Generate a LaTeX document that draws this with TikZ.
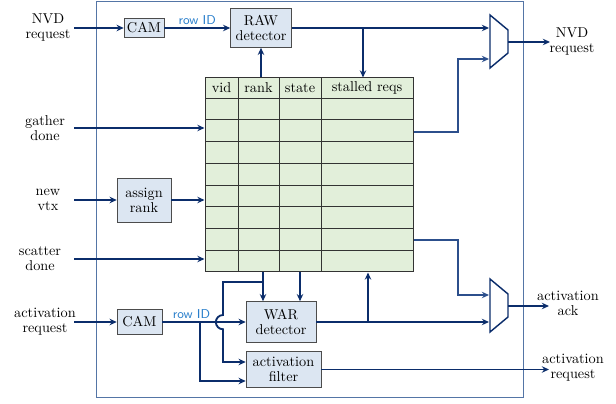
\documentclass[tikz,border=0pt]{standalone}
\usepackage{xcolor}
\usepackage{tikz}
\usetikzlibrary{arrows.meta}

\definecolor{navy}{HTML}{0B2D6B}
\definecolor{linkblue}{HTML}{2C4F8C}
\definecolor{frameblue}{HTML}{5475A6}
\definecolor{boxfill}{HTML}{DCE6F2}
\definecolor{tblfill}{HTML}{E2EFDA}
\definecolor{idblue}{HTML}{2A7FCB}

\begin{document}
\begin{tikzpicture}[
    x=0.7pt, y=-0.7pt,
    lbl/.style={align=center, font=\fontsize{10}{10.5}\selectfont},
    box/.style={draw=black!70, fill=boxfill, align=center, inner sep=1pt, font=\fontsize{10}{10.5}\selectfont},
    arr/.style={-{Stealth[length=5pt, width=4.5pt]}, line width=1.3pt, navy},
    thinarr/.style={-{Stealth[length=5pt, width=4.5pt]}, line width=0.9pt, linkblue},
    rowid/.style={font=\small\sffamily, text=idblue, inner sep=1.5pt},
    mux/.style={draw=navy, line width=1pt, fill=white}
]
    \useasboundingbox (0,0) rectangle (616,404);

    % frame
    \draw[frameblue, line width=0.6pt] (96,1) rectangle (523,397);

    % inputs
    \coordinate (xin) at (74,0);
    \node[lbl] (nvd) at (48,28) {NVD\\request};
    \node[lbl] (gd) at (45,128) {gather\\done};
    \node[lbl] (nv) at (48,200) {new\\vtx};
    \node[lbl] (sd) at (40,259) {scatter\\done};
    \node[lbl] (ar) at (45,322) {activation\\request};

    % table
    \node[draw=black!80, fill=tblfill, line width=0.7pt, minimum width=145.6pt, minimum height=135.8pt, inner sep=0pt] (tbl) at (309,175) {};
    \foreach \x in {238,279,321}
        \draw[black!80, line width=0.5pt] (\x,78) -- (\x,272);
    \draw[black!80, line width=0.5pt] (205,98) -- (413,98);
    \foreach \k in {1,...,7}
        \draw[black!80, line width=0.5pt] (205,98+21.75*\k) -- (413,98+21.75*\k);
    \node[lbl] (hvid) at (221.5,88) {vid};
    \node[lbl] (hrank) at (258.5,88) {rank};
    \node[lbl] (hstate) at (300,88) {state};
    \node[lbl] (hreqs) at (367,88) {stalled reqs};

    % blocks
    \node[box, minimum width=28pt, minimum height=13.3pt] (cama) at (144,28) {CAM};
    \node[box, minimum width=42.7pt, minimum height=27.3pt] (raw) at (261,28) {RAW\\detector};
    \node[box, minimum width=37.8pt, minimum height=30.8pt] (assign) at (144,200) {assign\\rank};
    \node[box, minimum width=31.5pt, minimum height=17.5pt] (camb) at (139.5,322) {CAM};
    \node[box, minimum width=49pt, minimum height=28.7pt] (war) at (281,322) {WAR\\detector};
    \node[box, minimum width=52.5pt, minimum height=25.2pt] (filt) at (283.5,369.5) {activation\\filter};

    % muxes
    \draw[mux] (490,15) -- (508,30) -- (508,53) -- (490,68) -- cycle;
    \draw[mux] (490,279) -- (508,294) -- (508,317) -- (490,332) -- cycle;
    \coordinate (m1a) at (489,28);
    \coordinate (m1b) at (489,59);
    \coordinate (m1o) at (508,42);
    \coordinate (m2a) at (489,295);
    \coordinate (m2b) at (489,322);
    \coordinate (m2o) at (508,306);

    % outputs
    \coordinate (nvdo) at (550,42);
    \coordinate (acko) at (549,306);
    \coordinate (actro) at (549,369.5);
    \node[lbl] (nvdout) at (572,42) {NVD\\request};
    \node[lbl] (ackout) at (568,303) {activation\\ack};
    \node[lbl] (actout) at (573,368) {activation\\request};

    % NVD side
    \draw[arr] (xin |- cama) -- (cama);
    \draw[arr] (cama) -- node[rowid, above] {row ID} (raw);
    \draw[arr] (raw) -- (m1a);
    \coordinate (brA) at (363,28);
    \draw[arr] (brA) -- (brA |- tbl.north);
    \draw[arr] (tbl.north -| raw) -- (raw);
    \draw[thinarr] (tbl.east |- 0,132) -| (458,59) -- (m1b);
    \draw[arr] (m1o) -- (nvdo);

    % table inputs
    \draw[arr] (xin |- gd) -- (tbl.west |- gd);
    \draw[arr] (xin |- nv) -- (assign);
    \draw[arr] (assign) -- (tbl.west |- assign);
    \draw[arr] (xin |- sd) -- (tbl.west |- sd);

    % activation side
    \draw[arr] (xin |- ar) -- (camb);
    \draw[arr] (camb) -- node[rowid, above, pos=0.35] {row ID} (war);
    \draw[arr] (tbl.south -| 263,0) -- (war.north -| 263,0);
    \draw[arr] (tbl.south -| 300,0) -- (war.north -| 300,0);
    \coordinate (hopA) at (263,282);
    \draw[arr] (hopA) -- (223,282) -- (223,315) arc[start angle=90, end angle=270, radius=5pt] -- (223,362) -- (filt.west |- 0,362);
    \coordinate (brB) at (200,322);
    \draw[arr] (brB) |- (filt.west |- 0,381);
    \draw[arr] (war) -- (m2b);
    \coordinate (brC) at (368,322);
    \draw[arr] (brC) -- (brC |- tbl.south);
    \draw[thinarr] (tbl.east |- 0,240) -| (458,295) -- (m2a);
    \draw[arr] (m2o) -- (acko);
    \draw[arr] (filt) -- (actro);
\end{tikzpicture}
\end{document}
